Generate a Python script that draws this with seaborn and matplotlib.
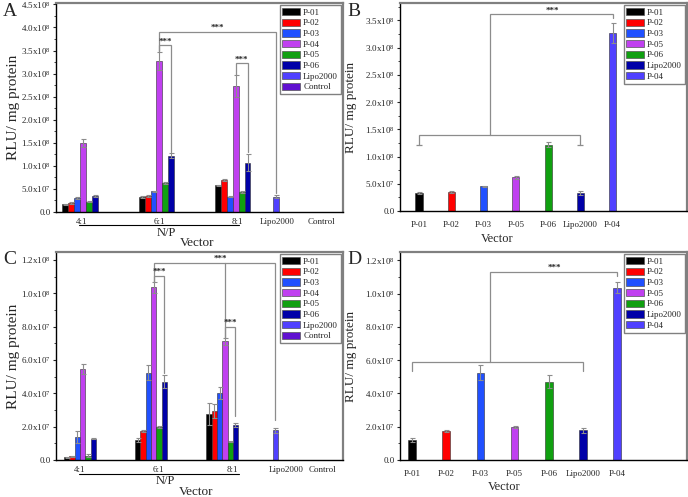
import matplotlib
matplotlib.use("Agg")
import matplotlib.pyplot as plt
from matplotlib.patches import Patch
from matplotlib.ticker import FuncFormatter, MultipleLocator
import numpy as np
import pandas as pd
import seaborn as sns

series = ["P-01", "P-02", "P-03", "P-04", "P-05", "P-06"]
groups = ["4:1", "6:1", "8:1"]
colors = {"P-01": "#000000", "P-02": "#ff0000", "P-03": "#2050ff", "P-04": "#c040f0",
          "P-05": "#10a010", "P-06": "#0000a8", "Lipo2000": "#5040ff", "Control": "#6010d0"}

# panel A (RLU / mg protein, x1e8)
a_41 = [0.17, 0.20, 0.31, 1.50, 0.22, 0.35]
a_61 = [0.33, 0.35, 0.45, 3.27, 0.62, 1.22]
a_81 = [0.58, 0.69, 0.33, 2.73, 0.43, 1.07]
a_lipo = 0.33
ea_41 = [0.01, 0.02, 0.02, 0.09, 0.01, 0.02]
ea_61 = [0.02, 0.02, 0.01, 0.19, 0.02, 0.05]
ea_81 = [0.01, 0.02, 0.01, 0.23, 0.02, 0.18]
ea_lipo = 0.03

# panel C (x1e8)
c_41 = [0.018, 0.022, 0.14, 0.547, 0.026, 0.128]
c_61 = [0.122, 0.176, 0.525, 1.036, 0.198, 0.471]
c_81 = [0.275, 0.295, 0.405, 0.713, 0.112, 0.21]
c_lipo = 0.178
ec_41 = [0.003, 0.005, 0.036, 0.03, 0.008, 0.004]
ec_61 = [0.012, 0.006, 0.046, 0.032, 0.008, 0.038]
ec_81 = [0.066, 0.04, 0.036, 0.022, 0.005, 0.014]
ec_lipo = 0.016

# panels B and D (N/P 6:1 compared)
bd_names = ["P-01", "P-02", "P-03", "P-05", "P-06", "Lipo2000", "P-04"]
bd_colors = ["#000000", "#ff0000", "#2050ff", "#c040f0", "#10a010", "#0000a8", "#5040ff"]
b_vals = [0.33, 0.35, 0.45, 0.62, 1.22, 0.33, 3.27]
b_errs = [0.02, 0.02, 0.01, 0.03, 0.05, 0.03, 0.18]
d_vals = [0.122, 0.176, 0.525, 0.198, 0.471, 0.178, 1.036]
d_errs = [0.012, 0.006, 0.046, 0.008, 0.038, 0.016, 0.032]

sns.set_style("ticks")
plt.rcParams["font.family"] = ["Liberation Serif", "DejaVu Serif"]
plt.rcParams["mathtext.fontset"] = "custom"
plt.rcParams["mathtext.rm"] = "Liberation Serif"
plt.rcParams["mathtext.it"] = "Liberation Serif:italic"

GRAY = "#8c8c8c"


def sci(v, pos):
    if v < 1:
        return "0.0"
    e = int(np.floor(np.log10(v) + 1e-9))
    return rf"{v / 10**e:.1f}x10$^{{{e}}}$"


def style_axes(ax, ymax, major, label_size):
    ax.set_ylim(0, ymax)
    ax.yaxis.set_major_locator(MultipleLocator(major))
    ax.yaxis.set_minor_locator(MultipleLocator(major / 2))
    ax.yaxis.set_major_formatter(FuncFormatter(sci))
    ax.tick_params(axis="y", which="major", length=2.5, width=0.8, labelsize=6.5, pad=1)
    ax.tick_params(axis="y", which="minor", length=1.5, width=0.6)
    for s in ["left", "bottom"]:
        ax.spines[s].set_color("black")
        ax.spines[s].set_linewidth(1.0)
    for s in ["top", "right"]:
        ax.spines[s].set_visible(True)
        ax.spines[s].set_color("#808080")
        ax.spines[s].set_linewidth(1.6)
    ax.set_ylabel("RLU/ mg protein", fontsize=label_size)


def legend(ax, names, cols):
    handles = [Patch(facecolor=c, edgecolor="#555555", linewidth=0.5, label=n)
               for n, c in zip(names, cols)]
    ax.legend(handles=handles, loc="upper right", fontsize=6.5, frameon=True, fancybox=False,
              edgecolor="#808080", framealpha=1, handlelength=2.0, handleheight=0.9,
              labelspacing=0.2, handletextpad=0.3, borderpad=0.3, borderaxespad=0.25)


def bracket(ax, x1, x2, y1, y2, top, lw=0.9):
    ax.plot([x1, x1, x2, x2], [y1 * 1e8, top * 1e8, top * 1e8, y2 * 1e8],
            color=GRAY, lw=lw, solid_joinstyle="miter")


def stars(ax, x, y):
    ax.text(x, y * 1e8, "***", ha="center", va="bottom", fontsize=6.5, fontweight="bold")


def grouped_panel(ax, vals, errs, lipo, lipo_err, lipo_x, width):
    pos = [1.0, 2.0, 3.0]
    df = pd.DataFrame({"x": np.repeat(pos, 6), "series": series * 3,
                       "y": np.concatenate(vals) * 1e8})
    sns.barplot(data=df, x="x", y="y", hue="series", hue_order=series, palette=colors,
                native_scale=True, width=width, errorbar=None, saturation=1,
                edgecolor="#303030", linewidth=0.4, legend=False, ax=ax)
    bw = width / 6
    xs = np.concatenate([p + (np.arange(6) - 2.5) * bw for p in pos])
    sns.barplot(x=[lipo_x], y=[lipo * 1e8], native_scale=True, width=bw, color=colors["Lipo2000"],
                saturation=1, errorbar=None, edgecolor="#303030", linewidth=0.4, ax=ax)
    ax.errorbar(np.append(xs, lipo_x), np.append(np.concatenate(vals), lipo) * 1e8,
                yerr=np.append(np.concatenate(errs), lipo_err) * 1e8, fmt="none",
                ecolor=GRAY, elinewidth=0.8, capsize=1.8, capthick=0.8, zorder=3)
    return bw


fig = plt.figure(figsize=(6.88, 4.97), dpi=100)
axA = fig.add_axes([56 / 688, 1 - 212 / 497, 287 / 688, 209 / 497])
axB = fig.add_axes([400 / 688, 1 - 211 / 497, 287 / 688, 208 / 497])
axC = fig.add_axes([56 / 688, 1 - 460 / 497, 287 / 688, 208 / 497])
axD = fig.add_axes([400 / 688, 1 - 460 / 497, 287 / 688, 208 / 497])

# ---- A
bw = grouped_panel(axA, [a_41, a_61, a_81], [ea_41, ea_61, ea_81], a_lipo, ea_lipo, 3.56, 0.46)
style_axes(axA, 4.53e8, 0.5e8, 11)
axA.set_xlim(0.686, 4.44)
axA.set_xticks([1.02, 2.04, 3.06, 3.575, 4.16])
axA.set_xticklabels(groups + ["Lipo2000", "Control"])
axA.tick_params(axis="x", length=0, labelsize=6.5, pad=4)
axA.set_xlabel("")
p4 = lambda g: g + 0.5 * bw
p6 = lambda g: g + 2.5 * bw
bracket(axA, p4(2), 3.56, 3.48, 0.42, 3.90)
stars(axA, 2.80, 3.90)
bracket(axA, p4(2), p6(2), 3.48, 1.31, 3.61)
stars(axA, (p4(2) + p6(2)) / 2, 3.61)
bracket(axA, p4(3), p6(3), 2.97, 1.29, 3.22)
stars(axA, (p4(3) + p6(3)) / 2, 3.22)
tr = axA.get_xaxis_transform()
axA.plot([0.987, 3.08], [-0.062, -0.062], transform=tr, clip_on=False, color="black", lw=0.8)
axA.text(2.13, -0.1, "N/P", transform=tr, ha="center", va="center", fontsize=9)
axA.text(2.53, -0.148, "Vector", transform=tr, ha="center", va="center", fontsize=9.5)
legend(axA, list(colors.keys()), list(colors.values()))

# ---- C
bw = grouped_panel(axC, [c_41, c_61, c_81], [ec_41, ec_61, ec_81], c_lipo, ec_lipo, 3.75, 0.45)
style_axes(axC, 1.248e8, 0.2e8, 11)
axC.set_xlim(0.662, 4.70)
axC.set_xticks([0.99, 2.1, 3.14, 3.9, 4.41])
axC.set_xticklabels(groups + ["Lipo2000", "Control"])
axC.tick_params(axis="x", length=0, labelsize=6.5, pad=4)
axC.set_xlabel("")
bracket(axC, p4(2), 3.75, 1.068, 0.242, 1.182)
axC.plot([p4(3), p4(3)], [1.182e8, 0.735e8], color=GRAY, lw=0.9)
stars(axC, 2.98, 1.182)
bracket(axC, p4(2), p6(2), 1.068, 0.52, 1.104)
stars(axC, (p4(2) + p6(2)) / 2, 1.104)
bracket(axC, p4(3), p6(3), 0.735, 0.264, 0.80)
stars(axC, (p4(3) + p6(3)) / 2, 0.80)
tr = axC.get_xaxis_transform()
axC.plot([0.98, 3.24], [-0.067, -0.067], transform=tr, clip_on=False, color="black", lw=0.8)
axC.text(2.2, -0.102, "N/P", transform=tr, ha="center", va="center", fontsize=9)
axC.text(2.64, -0.152, "Vector", transform=tr, ha="center", va="center", fontsize=9.5)
legend(axC, list(colors.keys()), list(colors.values()))

# ---- B and D
for ax, vals, errs in [(axB, b_vals, b_errs), (axD, d_vals, d_errs)]:
    sns.barplot(x=bd_names, y=np.array(vals) * 1e8, hue=bd_names, palette=bd_colors,
                width=0.22, saturation=1, errorbar=None, edgecolor="#303030", linewidth=0.4,
                legend=False, ax=ax)
    ax.errorbar(np.arange(7), np.array(vals) * 1e8, yerr=np.array(errs) * 1e8, fmt="none",
                ecolor=GRAY, elinewidth=0.8, capsize=1.8, capthick=0.8, zorder=3)
    ax.tick_params(axis="x", length=0, labelsize=6.5, pad=7)
    legend(ax, bd_names, bd_colors)

style_axes(axB, 3.82e8, 0.5e8, 9.5)
axB.set_xlim(-0.59, 8.3)
bracket(axB, 0, 5, 1.22, 1.22, 1.40)
axB.plot([0, 5], [1.22e8, 1.22e8], ls="none", marker="_", ms=4, mew=0.9, color=GRAY)
bracket(axB, 2.2, 6, 1.40, 3.54, 3.61)
stars(axB, 4.12, 3.61)
axB.text(0.338, -0.133, "Vector", transform=axB.transAxes, ha="center", va="center", fontsize=9)

style_axes(axD, 1.25e8, 0.2e8, 9.5)
axD.set_xlim(-0.35, 8.04)
bracket(axD, 0, 5, 0.535, 0.535, 0.591)
bracket(axD, 2.28, 6, 0.591, 1.106, 1.132)
stars(axD, 4.17, 1.132)
axD.text(0.362, -0.128, "Vector", transform=axD.transAxes, ha="center", va="center", fontsize=9)

for ax in [axA, axC]:
    ax.yaxis.set_label_coords(-0.125, 0.5)
for ax in [axB, axD]:
    ax.yaxis.set_label_coords(-0.15, 0.5)

for letter, x, y in [("A", 3, 3), ("B", 347, 3), ("C", 3, 251), ("D", 347, 251)]:
    fig.text(x / 688, 1 - y / 497, letter, ha="left", va="top", fontsize=14)

fig.savefig("out.png", dpi=100)
